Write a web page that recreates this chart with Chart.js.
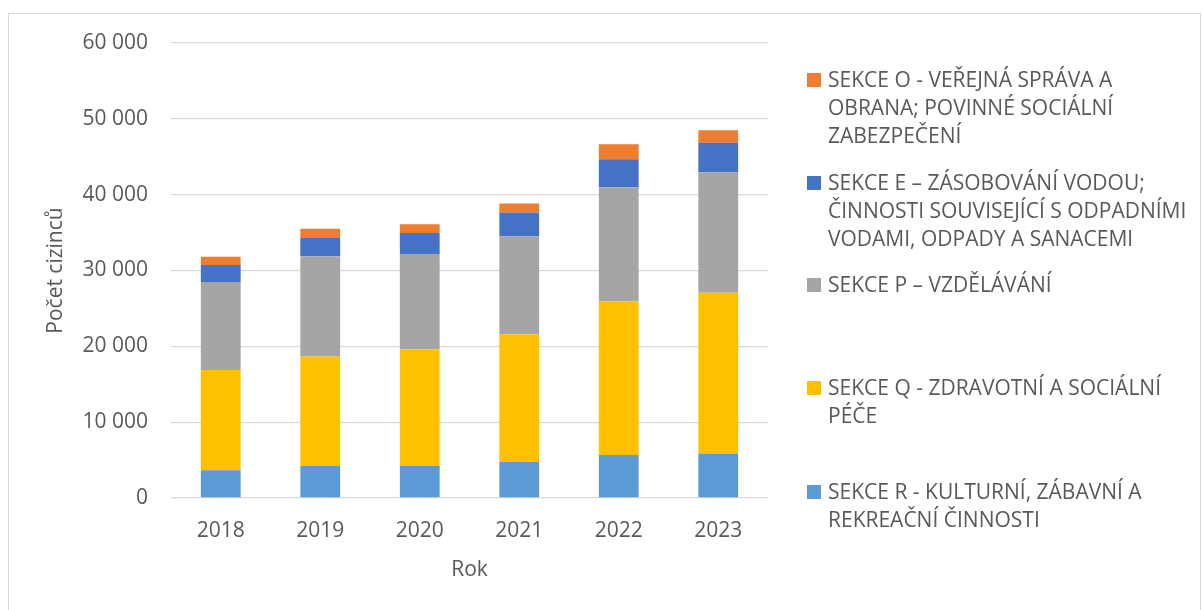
<!DOCTYPE html>
<html>
<head>
<meta charset="utf-8">
<script src="https://cdn.jsdelivr.net/npm/chart.js@4"></script>
<style>
  body { margin: 0; background: #fff; }
  #wrap { position: relative; width: 1203px; height: 610px; overflow: hidden; }
  #frame { position: absolute; left: 8px; top: 13px; width: 1193px; height: 620px; border: 1px solid #d9d9d9; box-sizing: border-box; }
  #chart { position: absolute; left: 0; top: 0; }
  .legend-item { position: absolute; left: 807px; font: 21px "Open Sans", sans-serif; line-height: 28px; color: #595959; white-space: nowrap; }
  .legend-item .sw { position: absolute; left: 0; top: 8px; width: 14px; height: 14px; }
  .legend-item .tx { position: absolute; left: 21px; top: 0; }
</style>
</head>
<body>
<div id="wrap">
  <div id="frame"></div>
  <canvas id="chart" width="1203" height="610"></canvas>
  <div id="legend"></div>
</div>
<script>
const YEARS = ['2018', '2019', '2020', '2021', '2022', '2023'];

const SEKCE_R = [3650, 4220, 4220, 4750, 5670, 5860];
const SEKCE_Q = [13240, 14430, 15400, 16850, 20240, 21190];
const SEKCE_P = [11610, 13240, 12570, 12920, 15080, 15920];
const SEKCE_E = [2240, 2410, 2770, 3130, 3690, 3860];
const SEKCE_O = [1060, 1190, 1150, 1190, 1980, 1680];

const LABEL_R = ['SEKCE R - KULTURNÍ, ZÁBAVNÍ A', 'REKREAČNÍ ČINNOSTI'];
const LABEL_Q = ['SEKCE Q - ZDRAVOTNÍ A SOCIÁLNÍ', 'PÉČE'];
const LABEL_P = ['SEKCE P – VZDĚLÁVÁNÍ'];
const LABEL_E = ['SEKCE E – ZÁSOBOVÁNÍ VODOU;', 'ČINNOSTI SOUVISEJÍCÍ S ODPADNÍMI', 'VODAMI, ODPADY A SANACEMI'];
const LABEL_O = ['SEKCE O - VEŘEJNÁ SPRÁVA A', 'OBRANA; POVINNÉ SOCIÁLNÍ', 'ZABEZPEČENÍ'];

const COLOR_R = '#5b9bd5';
const COLOR_Q = '#ffc000';
const COLOR_P = '#a5a5a5';
const COLOR_E = '#4472c4';
const COLOR_O = '#ed7d31';

const TEXT_COLOR = '#595959';
const GRID_COLOR = '#d9d9d9';
const FONT = '"Open Sans", sans-serif';

function fmtThousands(v) {
  return String(v).replace(/\B(?=(\d{3})+(?!\d))/g, ' ');
}

function ds(label, data, color) {
  return {
    label: label.join(' '),
    data,
    backgroundColor: color,
    borderWidth: 0,
    stack: 's',
    barPercentage: 0.5,
    categoryPercentage: 0.8,
  };
}

new Chart(document.getElementById('chart'), {
  type: 'bar',
  data: {
    labels: YEARS,
    datasets: [
      ds(LABEL_R, SEKCE_R, COLOR_R),
      ds(LABEL_Q, SEKCE_Q, COLOR_Q),
      ds(LABEL_P, SEKCE_P, COLOR_P),
      ds(LABEL_E, SEKCE_E, COLOR_E),
      ds(LABEL_O, SEKCE_O, COLOR_O),
    ],
  },
  options: {
    responsive: false,
    animation: false,
    layout: { padding: { left: 0, right: 435, top: 43, bottom: 0 } },
    plugins: { legend: { display: false }, tooltip: { enabled: false } },
    scales: {
      x: {
        stacked: true,
        grid: { display: false },
        border: { display: false },
        ticks: { color: TEXT_COLOR, font: { family: FONT, size: 21 }, padding: 12 },
        title: { display: true, text: 'Rok', color: TEXT_COLOR, font: { family: FONT, size: 21 }, padding: { top: 0, bottom: 27 } },
        afterFit: (s) => { s.height = 112; },
      },
      y: {
        stacked: true,
        min: 0,
        max: 60000,
        ticks: { stepSize: 10000, color: TEXT_COLOR, font: { family: FONT, size: 21 }, padding: 23, callback: (v) => fmtThousands(v) },
        grid: { color: GRID_COLOR, lineWidth: 1.3, drawTicks: false },
        border: { display: false },
        title: { display: true, text: 'Počet cizinců', color: TEXT_COLOR, font: { family: FONT, size: 21 }, padding: { top: 43, bottom: 0 } },
        afterFit: (s) => { s.width = 171; },
      },
    },
  },
});

// legend, drawn as html because the labels wrap over several lines
const legendItems = [
  [LABEL_O, COLOR_O, 65],
  [LABEL_E, COLOR_E, 168],
  [LABEL_P, COLOR_P, 270],
  [LABEL_Q, COLOR_Q, 373],
  [LABEL_R, COLOR_R, 477],
];
const legendEl = document.getElementById('legend');
legendItems.forEach(([lines, color, top]) => {
  const item = document.createElement('div');
  item.className = 'legend-item';
  item.style.top = top + 'px';
  item.innerHTML = `<span class="sw" style="background:${color}"></span><span class="tx">${lines.join('<br>')}</span>`;
  legendEl.appendChild(item);
});
</script>
</body>
</html>
